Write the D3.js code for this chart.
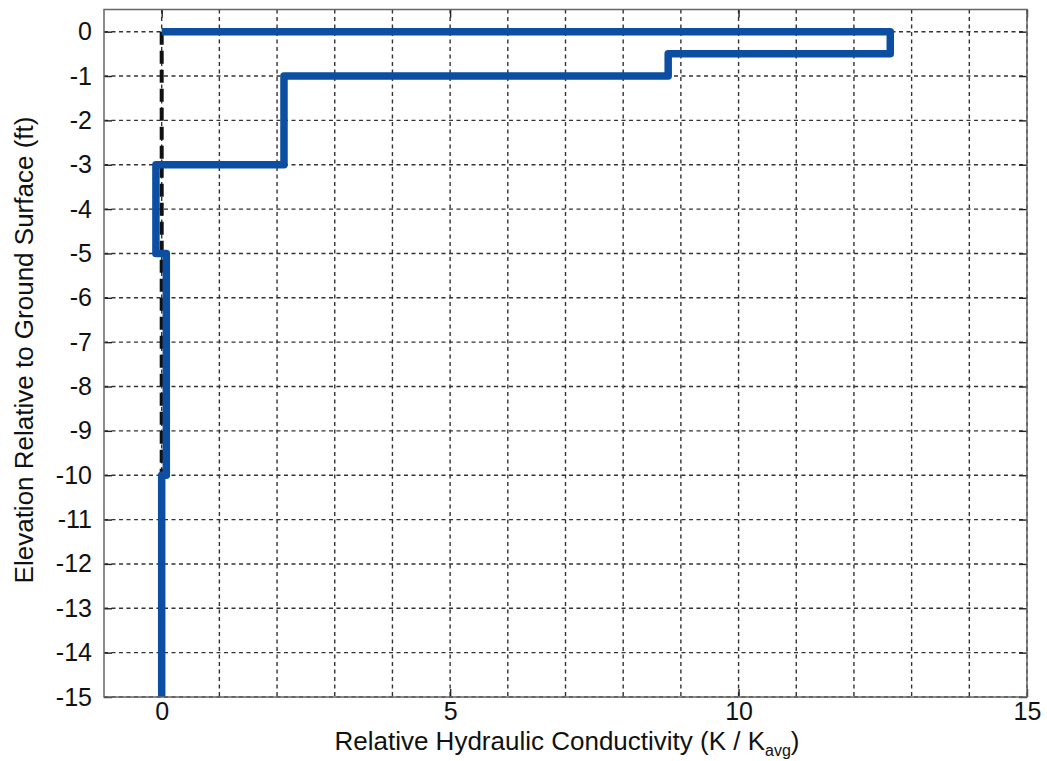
<!DOCTYPE html>
<html><head><meta charset="utf-8">
<script src="https://cdn.jsdelivr.net/npm/d3@7"></script>
<style>body{margin:0;background:#fff}svg{display:block}text{font-family:"Liberation Sans",Arial,sans-serif;fill:#111}</style>
</head><body>
<svg id="c" width="1047" height="761"></svg>
<script>
// Step profile: relative hydraulic conductivity vs elevation
const profileK = [0, 12.63, 12.63, 8.78, 8.78, 2.12, 2.12, -0.1, -0.1, 0.08, 0.08, 0, 0];
const profileElev = [0, 0, -0.5, -0.5, -1, -1, -3, -3, -5, -5, -10, -10, -15];
// Reference (average) line
const refK = [0, 0];
const refElev = [0, -15];
const xTicks = [0, 5, 10, 15];
const yTicks = [0, -1, -2, -3, -4, -5, -6, -7, -8, -9, -10, -11, -12, -13, -14, -15];
const xGrid = d3.range(0, 16, 1);

const svg = d3.select("#c");
const L = 104, R = 1027, T = 9.5, B = 697;
const x = d3.scaleLinear().domain([-1, 15]).range([L, R]);
const y = d3.scaleLinear().domain([-15, 0.5]).range([B, T]);
const fmt = d => String(d); // plain hyphen minus, as in the reference

const g = svg.append("g");
// grid
g.selectAll(".gx").data(xGrid).join("line")
  .attr("x1", d => x(d)).attr("x2", d => x(d)).attr("y1", T).attr("y2", B)
  .attr("stroke", "#333").attr("stroke-width", 1.4).attr("stroke-dasharray", "4,3.5");
g.selectAll(".gy").data(yTicks).join("line")
  .attr("y1", d => y(d)).attr("y2", d => y(d)).attr("x1", L).attr("x2", R)
  .attr("stroke", "#333").attr("stroke-width", 1.4).attr("stroke-dasharray", "4,3.5");

// axes
const ax = d3.axisBottom(x).tickValues(xTicks).tickSize(-8).tickPadding(5).tickFormat(fmt);
const axT = d3.axisTop(x).tickValues(xTicks).tickSize(-8).tickFormat("");
const ay = d3.axisLeft(y).tickValues(yTicks).tickSize(-8).tickPadding(12).tickFormat(fmt);
const ayR = d3.axisRight(y).tickValues(yTicks).tickSize(-8).tickFormat("");
function style(sel){
  sel.select(".domain").remove();
  sel.selectAll("line").attr("stroke","#222").attr("stroke-width",1.4);
  sel.selectAll("text").style("font-size","25px").attr("fill","#111");
}
svg.append("g").attr("transform",`translate(0,${B})`).call(ax).call(style);
svg.append("g").attr("transform",`translate(0,${T})`).call(axT).call(style);
svg.append("g").attr("transform",`translate(${L},0)`).call(ay).call(style);
svg.append("g").attr("transform",`translate(${R},0)`).call(ayR).call(style);

// reference dashed line
svg.append("path").datum(refK.map((k,i)=>[k,refElev[i]]))
  .attr("d", d3.line().x(d=>x(d[0])).y(d=>y(d[1])))
  .attr("fill","none").attr("stroke","#111").attr("stroke-width",4)
  .attr("stroke-dasharray","13,6");
// profile
svg.append("path").datum(profileK.map((k,i)=>[k,profileElev[i]]))
  .attr("d", d3.line().x(d=>x(d[0])).y(d=>y(d[1])))
  .attr("fill","none").attr("stroke","#0c4ea2").attr("stroke-width",7.5)
  .attr("stroke-linejoin","round").attr("stroke-linecap","butt");

// frame
svg.append("rect").attr("x",L).attr("y",T).attr("width",R-L).attr("height",B-T)
  .attr("fill","none").attr("stroke","#666").attr("stroke-width",1.5);

// labels
const xl = svg.append("text").attr("x", 567).attr("y", 750).attr("text-anchor","middle").style("font-size","26px");
xl.append("tspan").text("Relative Hydraulic Conductivity (K / K");
xl.append("tspan").text("avg").style("font-size","16px").attr("dy", 6);
xl.append("tspan").text(")").attr("dy", -6);
svg.append("text").attr("transform","translate(33,350) rotate(-90)").attr("text-anchor","middle")
  .style("font-size","26px").text("Elevation Relative to Ground Surface (ft)");
</script>
</body></html>
